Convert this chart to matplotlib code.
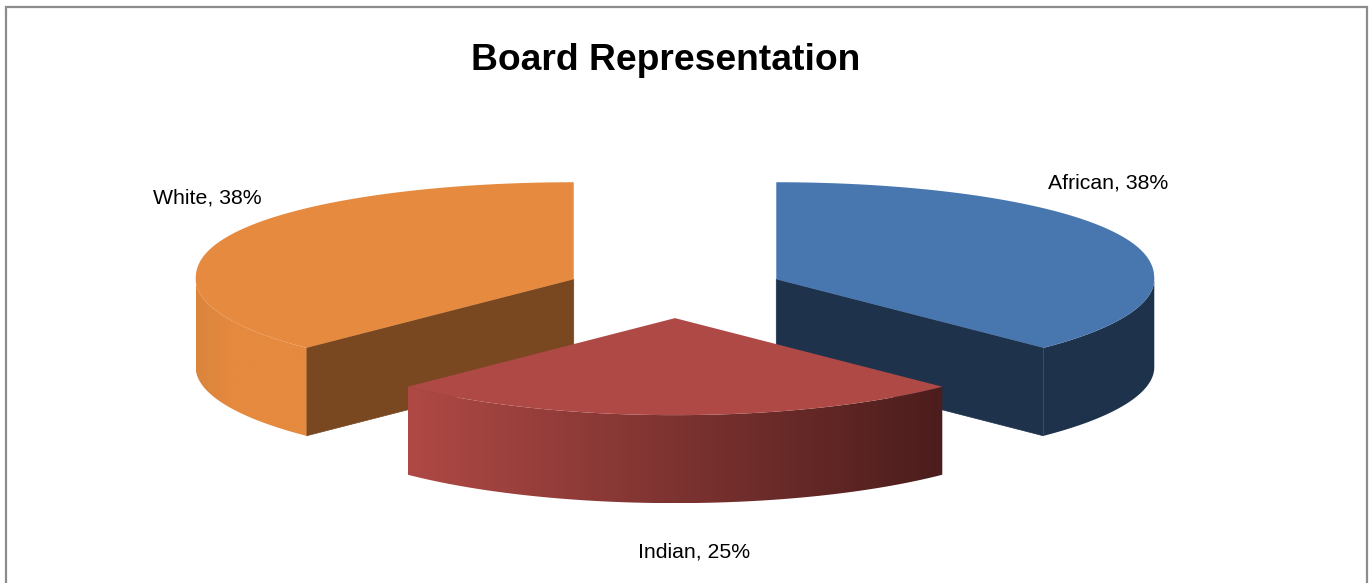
import numpy as np
import matplotlib
matplotlib.use("Agg")
import matplotlib.pyplot as plt
from matplotlib.patches import Polygon
from matplotlib.colors import LinearSegmentedColormap

# --- data ---
categories = ["African", "Indian", "White"]
values = [37.5, 25.0, 37.5]
title = "Board Representation"

# --- style ---
top_colors = ["#4877B0", "#AF4945", "#E58A3F"]
wall_colors = [("#1E324C", "#1E324C"), ("#AF4945", "#4B1D1C"),
               ("#DA843C", "#E58A3F", "#E58A3F", "#E58A3F")]
cut_colors = ["#1E324C", "#4B1D1C", "#794720"]
label_xy = [(1108.5, 183), (694.5, 552), (207.5, 198)]
W, H = 1370, 583
CX, CY = 675, 290
RX, RY = 378, 97
DEPTH = 88
EXPLODE = 0.29
BACK_FULLNESS = 0.9  # perspective: the far half of the rim is slightly fuller

plt.rcParams["font.family"] = ["Liberation Sans", "DejaVu Sans"]
fig = plt.figure(figsize=(W / 100, H / 100), dpi=100, facecolor="white")
ax = fig.add_axes([0, 0, 1, 1])
ax.set_xlim(0, W)
ax.set_ylim(H, 0)
ax.axis("off")
ax.set_autoscale_on(False)


def ell(theta, ox, oy):
    """Project a clockwise-from-12-o'clock angle on to the tilted pie."""
    c = np.cos(theta)
    lift = np.where(c > 0, np.abs(c) ** BACK_FULLNESS, c)
    return ox + RX * np.sin(theta), oy - RY * lift


def gradient_poly(xs, ys, colors, zorder):
    poly = Polygon(np.column_stack([xs, ys]), closed=True, fc="none", ec="none", zorder=zorder)
    ax.add_patch(poly)
    cmap = LinearSegmentedColormap.from_list("g", list(colors))
    im = ax.imshow(np.linspace(0, 1, 256)[None, :], cmap=cmap, aspect="auto",
                   extent=(xs.min(), xs.max(), ys.max(), ys.min()), zorder=zorder,
                   interpolation="bilinear")
    im.set_clip_path(poly)


fractions = np.array(values) / np.sum(values)
ends = np.cumsum(fractions) * 2 * np.pi
starts = ends - fractions * 2 * np.pi
mids = (starts + ends) / 2
# draw back slices first, the slice that faces the viewer last
order = np.argsort(-np.cos(mids))

for rank, i in enumerate(order):
    a0, a1, mid = starts[i], ends[i], mids[i]
    ox = CX + EXPLODE * RX * np.sin(mid)
    oy = CY - EXPLODE * RY * np.cos(mid)
    z = 2 + rank * 3
    # cut faces: only those turned towards the viewer
    for edge, visible in ((a0, np.pi < a0 < 2 * np.pi), (a1, 0 < a1 < np.pi)):
        if visible:
            ex, ey = ell(edge, ox, oy)
            ax.add_patch(Polygon([(ox, oy), (ex, ey), (ex, ey + DEPTH), (ox, oy + DEPTH)],
                                 closed=True, fc=cut_colors[i], ec=cut_colors[i], lw=0.5,
                                 zorder=z))
    # outer wall: only the part of the rim facing the viewer
    w0, w1 = max(a0, np.pi / 2), min(a1, 3 * np.pi / 2)
    if w1 > w0:
        t = np.linspace(w0, w1, 200)
        x, y = ell(t, ox, oy)
        xs = np.concatenate([x, x[::-1]])
        ys = np.concatenate([y, y[::-1] + DEPTH])
        gradient_poly(xs, ys, wall_colors[i], z + 1)
    # top face
    t = np.linspace(a0, a1, 300)
    x, y = ell(t, ox, oy)
    ax.add_patch(Polygon(np.column_stack([np.r_[ox, x], np.r_[oy, y]]), closed=True,
                         fc=top_colors[i], ec="none", zorder=z + 2))

for i, cat in enumerate(categories):
    ax.text(*label_xy[i], f"{cat}, {values[i]:.0f}%", ha="center", va="center",
            fontsize=15.3, color="black", zorder=30)

ax.text(666, 60, title, ha="center", va="center", fontsize=26.8, fontweight="bold",
        color="black", zorder=30)

# chart frame (open at the bottom where the crop ends)
ax.plot([6.5, 6.5, 1367.5, 1367.5], [H, 7, 7, H], color="#8C8C8C", lw=1.6,
        solid_joinstyle="miter", zorder=31, clip_on=False)

fig.savefig("out.png", dpi=100, facecolor="white")
